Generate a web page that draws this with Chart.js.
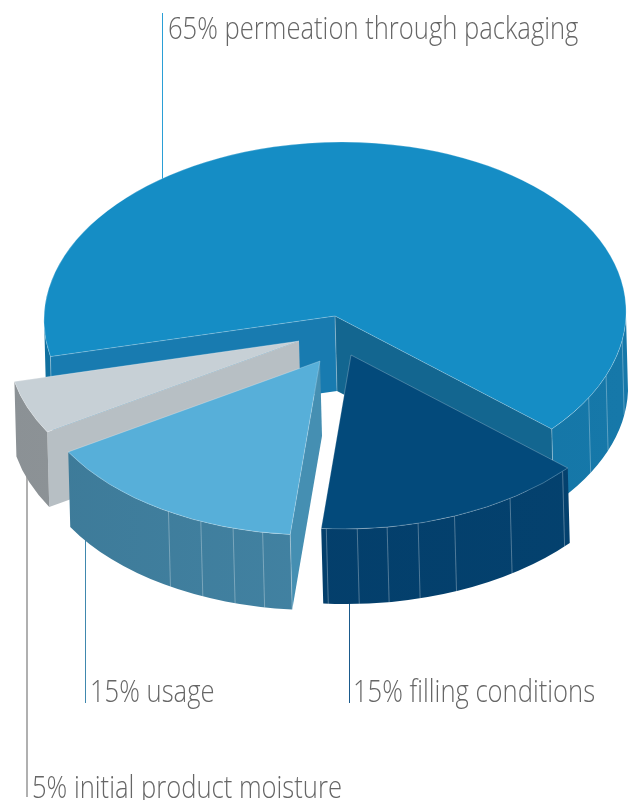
<!DOCTYPE html>
<html>
<head>
<meta charset="utf-8">
<title>Moisture sources</title>
<script src="https://cdn.jsdelivr.net/npm/chart.js@4/dist/chart.umd.min.js"></script>
<style>
  html, body { margin: 0; padding: 0; background: #fff; }
  canvas { display: block; }
</style>
</head>
<body>
<canvas id="pie" width="630" height="800"></canvas>
<script>
const categories = ["permeation through packaging", "filling conditions", "usage", "initial product moisture"];
const shares = [65, 15, 15, 5];

const TOP_COLORS = ["#158dc5", "#034a7b", "#57afd9", "#c7d0d6"];
const RIM_COLORS = [["#10709f", "#1678a9"], ["#033c68", "#04426f"], ["#3d7a98", "#4689ab"], ["#8b9195", "#989c9e"]];
const CUT_COLORS = { start: ["#187bb0", "", "#458fb2", "#b7bfc4"], end: ["#136690", "", "", ""] };

// look of the tilted pie, screen pixels
const SQUASH = 0.598;
const SKEW = -0.04;
const DEPTH = 75;
const DEPTH_SKEW = 5;
const SHIFT = [[0, 0], [16, 39], [-15, 45], [-36, 25]];
const DRAW_ORDER = [0, 3, 2, 1];
const FACETS = [
  [8, 20, 28],
  [42, 55.5, 67.8, 75.3, 81.5, 87.4, 93.5],
  [100, 106, 112.8, 120],
  [],
];
const EDGE_LINE = "rgba(255,255,255,0.3)";

const LABELS = [
  { x: 168, y: 39, lineX: 162, from: 13, to: 200, color: "#2a9fd6", width: 1 },
  { x: 353, y: 702, lineX: 349, from: 590, to: 703, color: "#1a5a8c", width: 1 },
  { x: 90, y: 702, lineX: 85, from: 520, to: 703, color: "#4088ae", width: 1 },
  { x: 32, y: 798, lineX: 26, from: 470, to: 797, color: "#b0b0b0", width: 2 },
];
const TEXT_SCALE = 0.8;

const DEG = Math.PI / 180;

function frontRanges(a1, a2) {
  const out = [];
  for (let k = Math.floor(a1 / (2 * Math.PI)) - 1; k * 2 * Math.PI < a2; k++) {
    const lo = Math.max(a1, k * 2 * Math.PI);
    const hi = Math.min(a2, k * 2 * Math.PI + Math.PI);
    if (hi > lo) out.push([lo, hi]);
  }
  return out;
}

// the wall helpers work around (0,0), the slice apex
function drawRim(ctx, r, range, colors) {
  const [a1, a2] = range;
  const ry = r * SQUASH;
  const grad = ctx.createLinearGradient(-r, 0, r, 0);
  grad.addColorStop(0, colors[0]);
  grad.addColorStop(1, colors[1]);
  ctx.beginPath();
  ctx.ellipse(0, 0, r, ry, 0, a1, a2);
  ctx.ellipse(DEPTH_SKEW, DEPTH, r, ry, 0, a2, a1, true);
  ctx.closePath();
  ctx.fillStyle = grad;
  ctx.fill();
}

function drawCut(ctx, r, angle, color) {
  const x = Math.cos(angle) * r;
  const y = Math.sin(angle) * r * SQUASH;
  ctx.beginPath();
  ctx.moveTo(0, 0);
  ctx.lineTo(x, y);
  ctx.lineTo(x + DEPTH_SKEW, y + DEPTH);
  ctx.lineTo(DEPTH_SKEW, DEPTH);
  ctx.closePath();
  ctx.fillStyle = color;
  ctx.fill();
}

function drawDrop(ctx, r, angle) {
  const x = Math.cos(angle) * r;
  const y = Math.sin(angle) * r * SQUASH;
  ctx.beginPath();
  ctx.moveTo(x, y);
  ctx.lineTo(x + DEPTH_SKEW, y + DEPTH);
  ctx.strokeStyle = EDGE_LINE;
  ctx.lineWidth = 1;
  ctx.stroke();
}

const tiltedPie = {
  id: "tiltedPie",
  beforeDatasetsDraw(chart) {
    const ctx = chart.ctx;
    const arcs = chart.getDatasetMeta(0).data;

    LABELS.forEach((l) => {
      ctx.fillStyle = l.color;
      ctx.fillRect(l.lineX, l.from, l.width, l.to - l.from);
    });

    DRAW_ORDER.forEach((i) => {
      const arc = arcs[i];
      const r = arc.outerRadius;

      ctx.save();
      ctx.translate(arc.x + SHIFT[i][0], arc.y + SHIFT[i][1]);
      ctx.transform(1, 0, SKEW, 1, 0, 0);
      // radial cut faces, only the ones turned to the viewer
      if (Math.sin(arc.startAngle - Math.PI / 2) > 0) drawCut(ctx, r, arc.startAngle, CUT_COLORS.start[i]);
      if (Math.sin(arc.endAngle + Math.PI / 2) > 0) drawCut(ctx, r, arc.endAngle, CUT_COLORS.end[i]);
      frontRanges(arc.startAngle, arc.endAngle).forEach((range) => drawRim(ctx, r, range, RIM_COLORS[i]));
      FACETS[i].forEach((a) => drawDrop(ctx, r, a * DEG));
      if (i === 0) {
        drawDrop(ctx, 0, 0);
        drawDrop(ctx, r, arc.startAngle);
        drawDrop(ctx, r, arc.endAngle);
      }
      if (i === 2) drawDrop(ctx, r, arc.startAngle);

      ctx.scale(1, SQUASH);
      ctx.translate(-arc.x, -arc.y);
      arc.draw(ctx);
      ctx.restore();
    });

    return false;
  },
  afterDraw(chart) {
    const ctx = chart.ctx;
    ctx.save();
    ctx.font = "300 32px 'Open Sans', sans-serif";
    ctx.fillStyle = "#666666";
    ctx.textBaseline = "alphabetic";
    LABELS.forEach((l, i) => {
      ctx.save();
      ctx.translate(l.x, l.y);
      ctx.scale(TEXT_SCALE, 1);
      ctx.fillText(shares[i] + "% " + categories[i], 0, 0);
      ctx.restore();
    });
    ctx.restore();
  },
};

new Chart(document.getElementById("pie"), {
  type: "pie",
  data: {
    labels: categories,
    datasets: [{
      data: shares,
      backgroundColor: TOP_COLORS,
      borderColor: "rgba(255,255,255,0.3)",
      borderWidth: 1,
      hoverOffset: 0,
    }],
  },
  options: {
    responsive: false,
    animation: false,
    rotation: 256.5,
    radius: 291,
    layout: { padding: { left: 40, bottom: 168 } },
    plugins: { legend: { display: false }, tooltip: { enabled: false } },
  },
  plugins: [tiltedPie],
});
</script>
</body>
</html>
